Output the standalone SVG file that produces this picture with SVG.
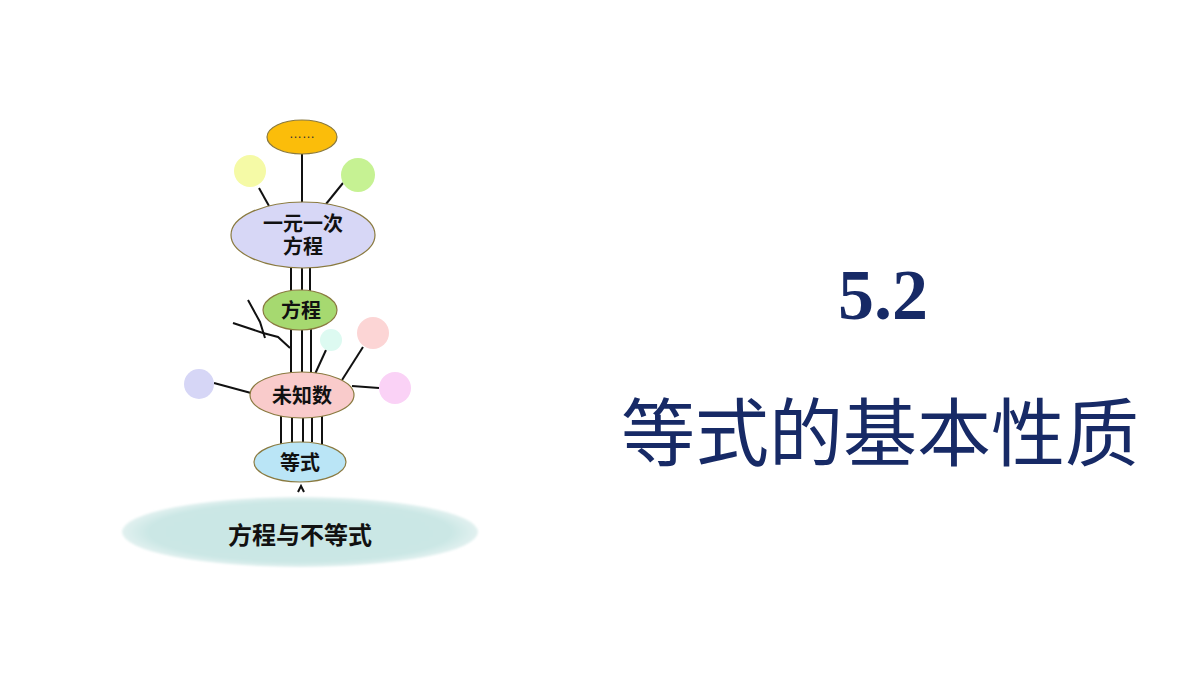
<svg xmlns="http://www.w3.org/2000/svg" width="1200" height="675" viewBox="0 0 1200 675">
<defs>
<style>
.ln{stroke:#111;stroke-width:2;fill:none}
.nd{stroke:#8a7a40;stroke-width:1.2}
.lb{font-family:"Liberation Sans","Noto Sans CJK SC",sans-serif;font-weight:bold;font-size:20px;fill:#111;text-anchor:middle;dominant-baseline:central}
.ball{stroke:none}
</style>
<radialGradient id="bg" cx="0.5" cy="0.5" r="0.5">
<stop offset="0" stop-color="#c9e6e4"/>
<stop offset="0.85" stop-color="#cbe7e5"/>
<stop offset="1" stop-color="#e2f1f0"/>
</radialGradient>
<filter id="soft" x="-10%" y="-30%" width="120%" height="160%"><feGaussianBlur stdDeviation="1.2"/></filter>
</defs>
<rect width="1200" height="675" fill="#ffffff"/>
<g id="connectors">
<line class="ln" x1="302" y1="154" x2="302" y2="203"/>
<line class="ln" x1="259" y1="188" x2="269" y2="206"/>
<line class="ln" x1="343" y1="183" x2="326" y2="204"/>
<line class="ln" x1="291" y1="268" x2="291" y2="291"/>
<line class="ln" x1="302" y1="268" x2="302" y2="290"/>
<line class="ln" x1="310" y1="268" x2="310" y2="291"/>
<line class="ln" x1="291" y1="329" x2="291" y2="374"/>
<line class="ln" x1="302" y1="330" x2="302" y2="372"/>
<line class="ln" x1="311" y1="329" x2="311" y2="373"/>
<polyline class="ln" points="290,348 278,337 263,333 233,323"/>
<polyline class="ln" points="265,338 260,322 248,300"/>
<line class="ln" x1="326" y1="350" x2="315" y2="374"/>
<line class="ln" x1="363" y1="347" x2="342" y2="380"/>
<line class="ln" x1="214" y1="383" x2="251" y2="393"/>
<line class="ln" x1="352" y1="386" x2="379" y2="388"/>
<line class="ln" x1="281" y1="416" x2="281" y2="445"/>
<line class="ln" x1="292" y1="418" x2="292" y2="443"/>
<line class="ln" x1="303" y1="418" x2="303" y2="442"/>
<line class="ln" x1="312" y1="418" x2="312" y2="442"/>
<line class="ln" x1="322" y1="416" x2="322" y2="445"/>
<polyline class="ln" points="298,492 301,486 304,492" stroke-width="1.3"/>
</g>
<g id="base">
<ellipse cx="300" cy="532" rx="178" ry="35" fill="url(#bg)" filter="url(#soft)"/>
<text class="lb" x="300" y="535" style="font-size:24px">方程与不等式</text>
</g>
<g id="dots">
<ellipse class="nd" cx="302" cy="137" rx="35" ry="17" fill="#fbbd0a"/>
<text x="302" y="138" text-anchor="middle" font-family="Liberation Sans, sans-serif" font-size="13" fill="#333">……</text>
</g>
<g id="ball-yellow"><circle class="ball" cx="250" cy="171" r="16" fill="#f5faa6"/></g>
<g id="ball-green"><circle class="ball" cx="358" cy="175" r="17" fill="#c6f293"/></g>
<g id="yiyuanyici">
<ellipse class="nd" cx="303" cy="235" rx="72" ry="33" fill="#d7d7f6"/>
<text class="lb" x="303" y="224">一元一次</text>
<text class="lb" x="303" y="247">方程</text>
</g>
<g id="fangcheng">
<ellipse class="nd" cx="300" cy="310" rx="37" ry="20" fill="#a6d970"/>
<text class="lb" x="301" y="311">方程</text>
</g>
<g id="ball-cyan"><circle class="ball" cx="331" cy="340" r="11" fill="#ddfaf1"/></g>
<g id="ball-pink"><circle class="ball" cx="373" cy="333" r="16" fill="#fcd5d5"/></g>
<g id="ball-lavender"><circle class="ball" cx="199" cy="384" r="15" fill="#d6d6f6"/></g>
<g id="ball-magenta"><circle class="ball" cx="395" cy="388" r="16" fill="#fad2f6"/></g>
<g id="weizhishu">
<ellipse class="nd" cx="302" cy="395" rx="52" ry="23" fill="#f9cbcb"/>
<text class="lb" x="302" y="396">未知数</text>
</g>
<g id="dengshi">
<ellipse class="nd" cx="300" cy="462" rx="46" ry="20" fill="#bae5f6"/>
<text class="lb" x="300" y="463">等式</text>
</g>
<g id="title" fill="#172a66">
<text x="883" y="319" text-anchor="middle" font-family="Liberation Serif, serif" font-weight="bold" font-size="72">5.2</text>
<text x="880" y="460" text-anchor="middle" font-family="Liberation Serif, Noto Sans CJK SC, serif" font-size="74">等式的基本性质</text>
</g>
</svg>
